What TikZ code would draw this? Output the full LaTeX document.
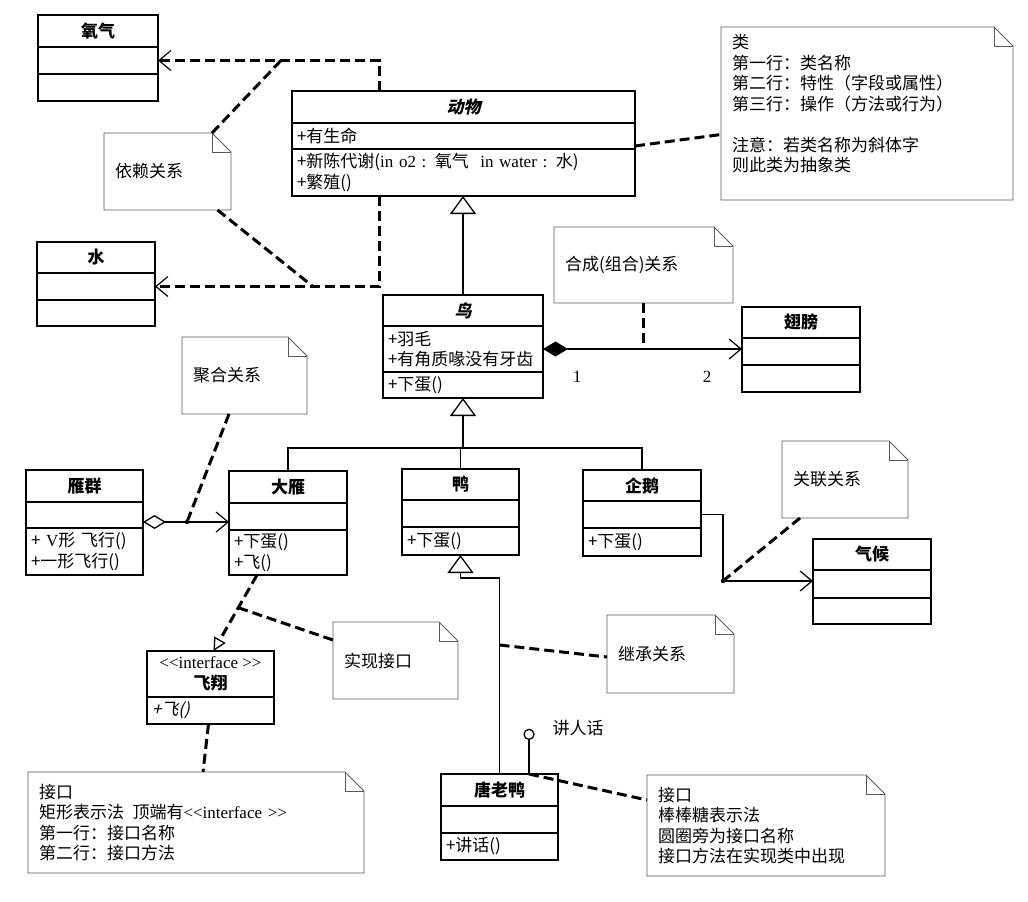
\documentclass[tikz,border=0pt]{standalone}
\usepackage{fontspec}
\setmainfont{Noto Sans CJK SC}
\newfontfamily\latfont{Liberation Serif}
\newfontfamily\slantfont{Noto Sans CJK SC}[FakeSlant=0.22]
\usetikzlibrary{positioning}
\usetikzlibrary{arrows.meta}
\newcommand{\umlfont}{\fontsize{17}{20.5}\selectfont}
\newcommand{\lat}[1]{{\latfont #1}}
\tikzset{
  clspen/.style={draw, line width=1.8pt, inner sep=0pt, outer sep=0pt},
  clshead/.style={clspen, minimum width=#1, minimum height=32, align=center, font=\umlfont\bfseries},
  clsrow/.style={clspen, minimum width=#1, text width=#1-10, align=left, font=\umlfont},
  notepen/.style={draw=black!65, line width=0.9pt},
  umlnote/.style={inner sep=0pt, outer sep=0pt, align=left, font=\umlfont,
    append after command={\pgfextra{\let\notenode\tikzlastnode
      \draw[notepen] (\notenode.north west) -- ([xshift=-19pt]\notenode.north east)
        -- ([yshift=-19pt]\notenode.north east) -- (\notenode.south east)
        -- (\notenode.south west) -- cycle;
      \draw[notepen] ([xshift=-19pt]\notenode.north east) |- ([yshift=-19pt]\notenode.north east);}}},
  barbhead/.tip={Straight Barb[length=12pt, width=20pt, line width=1.2pt]},
  genhead/.tip={Triangle[open, length=18pt, width=26pt, line width=1.3pt]},
  realhead/.tip={Triangle[open, length=13pt, width=13pt, line width=1.3pt]},
  link/.style={line width=1.3pt},
  dep/.style={line width=3pt, dash pattern=on 10pt off 5pt},
  lolli/.style={draw, circle, line width=1.3pt, minimum size=10, inner sep=0pt}
}
\begin{document}
\begin{tikzpicture}[x=1pt, y=-1pt, font=\umlfont]
\useasboundingbox (0,0) rectangle (1028,902);

% classes
\node[clshead=120] (yangqi) at (98,31) {氧气};
\node[clsrow=120, below=0 of yangqi, minimum height=27] (yangqiAttr) {};
\node[clsrow=120, below=0 of yangqiAttr, minimum height=27] (yangqiOps) {};

\node[clshead=118, minimum height=31] (shui) at (96,257.5) {水};
\node[clsrow=118, below=0 of shui, minimum height=27] (shuiAttr) {};
\node[clsrow=118, below=0 of shuiAttr, minimum height=26] (shuiOps) {};

\node[clshead=343] (dongwu) at (463.5,107) {\slantfont\bfseries 动物};
\node[clsrow=343, below=0 of dongwu, minimum height=26] (dongwuAttr) {+有生命};
\node[clsrow=343, below=0 of dongwuAttr, minimum height=47] (dongwuOps) {+新陈代谢(\lat{in o2 :} 氧气 \lat{ in water :} 水)\\+繁殖()};

\node[clshead=160, minimum height=31] (niao) at (463,310.5) {\slantfont\bfseries 鸟};
\node[clsrow=160, below=0 of niao, minimum height=46] (niaoAttr) {+羽毛\\+有角质喙没有牙齿};
\node[clsrow=160, below=0 of niaoAttr, minimum height=26] (niaoOps) {+下蛋()};

\node[clshead=118, minimum height=31] (chibang) at (801,322.5) {翅膀};
\node[clsrow=118, below=0 of chibang, minimum height=27] (chibangAttr) {};
\node[clsrow=118, below=0 of chibangAttr, minimum height=27] (chibangOps) {};

\node[clshead=117] (yanqun) at (84.5,486) {雁群};
\node[clsrow=117, below=0 of yanqun, minimum height=26] (yanqunAttr) {};
\node[clsrow=117, below=0 of yanqunAttr, minimum height=47] (yanqunOps) {+ \lat{V}形 飞行()\\+一形飞行()};

\node[clshead=118] (dayan) at (288,487) {大雁};
\node[clsrow=118, below=0 of dayan, minimum height=27] (dayanAttr) {};
\node[clsrow=118, below=0 of dayanAttr, minimum height=45] (dayanOps) {+下蛋()\\+飞()};

\node[clshead=117, minimum height=31] (ya) at (460.5,484.5) {鸭};
\node[clsrow=117, below=0 of ya, minimum height=27] (yaAttr) {};
\node[clsrow=117, below=0 of yaAttr, minimum height=28] (yaOps) {+下蛋()};

\node[clshead=118, minimum height=31] (qie) at (642,485.5) {企鹅};
\node[clsrow=118, below=0 of qie, minimum height=27] (qieAttr) {};
\node[clsrow=118, below=0 of qieAttr, minimum height=28] (qieOps) {+下蛋()};

\node[clshead=118, minimum height=31] (qihou) at (872,554.5) {气候};
\node[clsrow=118, below=0 of qihou, minimum height=28] (qihouAttr) {};
\node[clsrow=118, below=0 of qihouAttr, minimum height=26] (qihouOps) {};

\node[clshead=127, minimum height=46, font=\umlfont] (feixiang) at (210.5,674) {\lat{<{}<interface >{}>}\\{\bfseries 飞翔}};
\node[clsrow=127, below=0 of feixiang, minimum height=27] (feixiangOps) {\slantfont +飞()};

\node[clshead=117] (tang) at (499.5,790) {唐老鸭};
\node[clsrow=117, below=0 of tang, minimum height=27] (tangAttr) {};
\node[clsrow=117, below=0 of tangAttr, minimum height=27] (tangOps) {+讲话()};

% notes
\node[umlnote, minimum width=127, minimum height=77, text width=105] (yilaiNote) at (167.5,171.5) {依赖关系};
\node[umlnote, minimum width=292, minimum height=173, text width=270] (leiNote) at (867,113.5) {类\\第一行：类名称\\第二行：特性（字段或属性）\\第三行：操作（方法或行为）\\\mbox{}\\注意：若类名称为斜体字\\则此类为抽象类\\\mbox{}};
\node[umlnote, minimum width=179, minimum height=76, text width=157] (hechengNote) at (643.5,265) {合成(组合)关系};
\node[umlnote, minimum width=125, minimum height=77, text width=103] (juheNote) at (244.5,375.5) {聚合关系};
\node[umlnote, minimum width=126, minimum height=77, text width=104] (guanlianNote) at (845,479.5) {关联关系};
\node[umlnote, minimum width=125, minimum height=77, text width=103] (shixianNote) at (395.5,660.5) {实现接口};
\node[umlnote, minimum width=127, minimum height=78, text width=105] (jichengNote) at (670.5,654) {继承关系};
\node[umlnote, minimum width=336, minimum height=101, text width=314] (rectNote) at (196,822.5) {接口\\矩形表示法\enspace 顶端有\lat{<{}<interface >{}>}\\第一行：接口名称\\第二行：接口方法};
\node[umlnote, minimum width=238, minimum height=101, text width=216] (ballNote) at (766,825.5) {接口\\棒棒糖表示法\\圆圈旁为接口名称\\接口方法在实现类中出现};

% dependency
\coordinate (depX) at (379,0);
\coordinate (depUpJoin) at (281,60.5);
\coordinate (depLowJoin) at (313,286.5);
\draw[dep, -{barbhead}] (depX |- dongwu.north) |- (yangqiAttr.east);
\draw[dep, -{barbhead}] (depX |- dongwuOps.south) |- (shuiAttr.east);
\draw[dep] ([xshift=-19pt]yilaiNote.north east) -- (depUpJoin);
\draw[dep] ([xshift=50pt]yilaiNote.south) -- (depLowJoin);
\draw[dep] ([yshift=3pt]dongwuOps.north east) -- ([yshift=-21pt]leiNote.west);

% generalization
\draw[link, -{genhead}] (niao.north) -- (niao.north |- dongwuOps.south);
\coordinate (genBus) at (463,448);
\draw[link, -{genhead}] (genBus) -- (niaoOps.south);
\draw[link] (dayan.north) |- (qie.north |- genBus) -- (qie.north);
\draw[link] (ya.north) -- (ya.north |- genBus);
\draw[link, -{genhead}] (tang.north) |- ([yshift=-23pt]yaOps.south) -- (yaOps.south);
\path (tang.north) ++(0,-129) coordinate (inhJoin);
\draw[dep] (inhJoin) -- ([yshift=-3pt]jichengNote.west);

% composition
\draw[link, {Diamond[length=25pt, width=15pt]}-{barbhead}] (niaoAttr.east) -- (niaoAttr.east -| chibangAttr.west);
\node[font=\umlfont\latfont] (multOne) at (577,377) {1};
\node[font=\umlfont\latfont] (multTwo) at (707,377) {2};
\draw[dep] (hechengNote.south) -- (hechengNote.south |- niaoAttr.east);

% aggregation
\coordinate (aggJoin) at (187,522);
\draw[link, {Diamond[open, length=23pt, width=14pt, line width=1.3pt]}-{barbhead}] (yanqunAttr.east |- aggJoin) -- (dayanAttr.west |- aggJoin);
\draw[dep] ([xshift=-15.5pt]juheNote.south) -- (aggJoin);
\fill (aggJoin) circle (2.2pt);

% association
\coordinate (assocJoin) at (723,581);
\draw[link, -{barbhead}] (qieAttr.east) -| (assocJoin) -- (assocJoin -| qihouAttr.west);
\draw[dep] ([xshift=-45pt]guanlianNote.south) -- (assocJoin);
\fill (assocJoin) circle (2.2pt);

% realization
\draw[dep, -{realhead}] ([xshift=-31pt]dayanOps.south) -- coordinate[pos=0.43] (realJoin) ([xshift=3pt]feixiang.north);
\draw[dep] (realJoin) -- ([yshift=-18pt]shixianNote.north west);
\draw[dep] ([xshift=-2pt]feixiangOps.south) -- ([xshift=7pt]rectNote.north);

% lollipop
\coordinate (lolliBase) at ([xshift=29.5pt]tang.north);
\node[lolli, above=34pt of lolliBase] (lolli) {};
\draw[link] (lolliBase) -- (lolli);
\node (lolliLabel) at (578,728) {讲人话};
\draw[dep] (lolliBase) -- ([yshift=-25pt]ballNote.north west);
\end{tikzpicture}
\end{document}
